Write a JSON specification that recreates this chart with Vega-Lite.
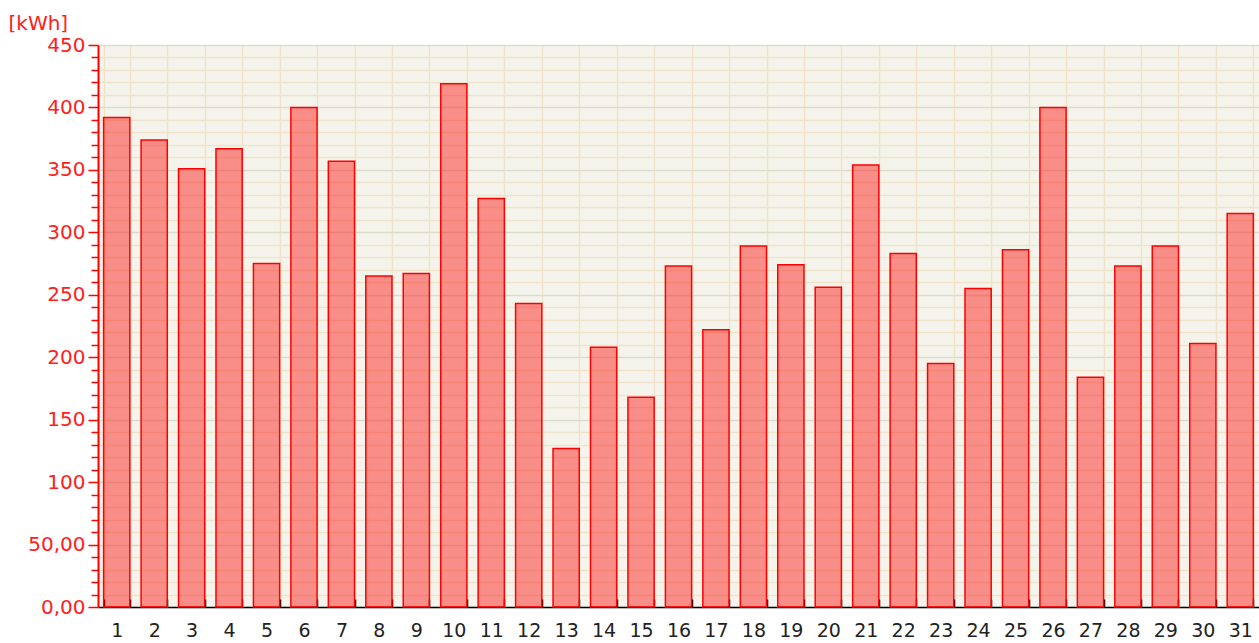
{
  "$schema": "https://vega.github.io/schema/vega-lite/v6.json",
  "width": 1161,
  "height": 562,
  "autosize": {"type": "none"},
  "padding": {"left": 98, "top": 45, "right": 0, "bottom": 36},
  "background": "white",
  "view": {"fill": "#f4f4ec", "stroke": null},
  "config": {"font": "DejaVu Sans"},
  "data": {"values": [
    {"day": "1", "kwh": 392}, {"day": "2", "kwh": 374}, {"day": "3", "kwh": 351},
    {"day": "4", "kwh": 367}, {"day": "5", "kwh": 275}, {"day": "6", "kwh": 400},
    {"day": "7", "kwh": 357}, {"day": "8", "kwh": 265}, {"day": "9", "kwh": 267},
    {"day": "10", "kwh": 419}, {"day": "11", "kwh": 327}, {"day": "12", "kwh": 243},
    {"day": "13", "kwh": 127}, {"day": "14", "kwh": 208}, {"day": "15", "kwh": 168},
    {"day": "16", "kwh": 273}, {"day": "17", "kwh": 222}, {"day": "18", "kwh": 289},
    {"day": "19", "kwh": 274}, {"day": "20", "kwh": 256}, {"day": "21", "kwh": 354},
    {"day": "22", "kwh": 283}, {"day": "23", "kwh": 195}, {"day": "24", "kwh": 255},
    {"day": "25", "kwh": 286}, {"day": "26", "kwh": 400}, {"day": "27", "kwh": 184},
    {"day": "28", "kwh": 273}, {"day": "29", "kwh": 289}, {"day": "30", "kwh": 211},
    {"day": "31", "kwh": 315}
  ]},
  "mark": {"type": "bar", "fill": "#ff0000", "fillOpacity": 0.42, "stroke": "#ff0000", "strokeWidth": 1.5},
  "encoding": {
    "x": {
      "field": "day", "type": "ordinal", "sort": null,
      "scale": {"paddingInner": 0.3, "paddingOuter": 0.15},
      "axis": {
        "title": null, "labelAngle": 0, "labelFontSize": 19, "labelColor": "#222222",
        "labelPadding": 22,
        "domainColor": "#000000", "domainWidth": 1.5,
        "tickBand": "extent", "tickColor": "#000000", "tickSize": -8, "tickWidth": 1.5,
        "grid": true, "gridColor": "#efe4c9", "gridWidth": 1.5
      }
    },
    "y": {
      "field": "kwh", "type": "quantitative",
      "scale": {"domain": [0, 450], "nice": false},
      "axis": {
        "values": [0,10,20,30,40,50,60,70,80,90,100,110,120,130,140,150,160,170,180,190,200,210,220,230,240,250,260,270,280,290,300,310,320,330,340,350,360,370,380,390,400,410,420,430,440,450],
        "labelExpr": "datum.value % 50 === 0 ? (datum.value === 0 ? '0,00' : (datum.value === 50 ? '50,00' : format(datum.value, 'd'))) : ''",
        "labelColor": "#ff2020", "labelFontSize": 20, "labelPadding": 3,
        "domainColor": "#ff0000", "domainWidth": 2,
        "tickColor": "#ff0000", "tickWidth": 1.5,
        "tickSize": {"condition": {"test": "datum.value % 50 === 0", "value": 10}, "value": 7},
        "grid": true,
        "gridColor": {"condition": {"test": "datum.value % 50 === 0", "value": "#dcdccb"}, "value": "#efe4c9"},
        "gridWidth": 1.5,
        "title": "[kWh]", "titleAngle": 0, "titleColor": "#ff2020", "titleFontSize": 20,
        "titleFontWeight": "normal", "titleX": -90, "titleY": -22,
        "titleAlign": "left", "titleBaseline": "middle"
      }
    }
  }
}
